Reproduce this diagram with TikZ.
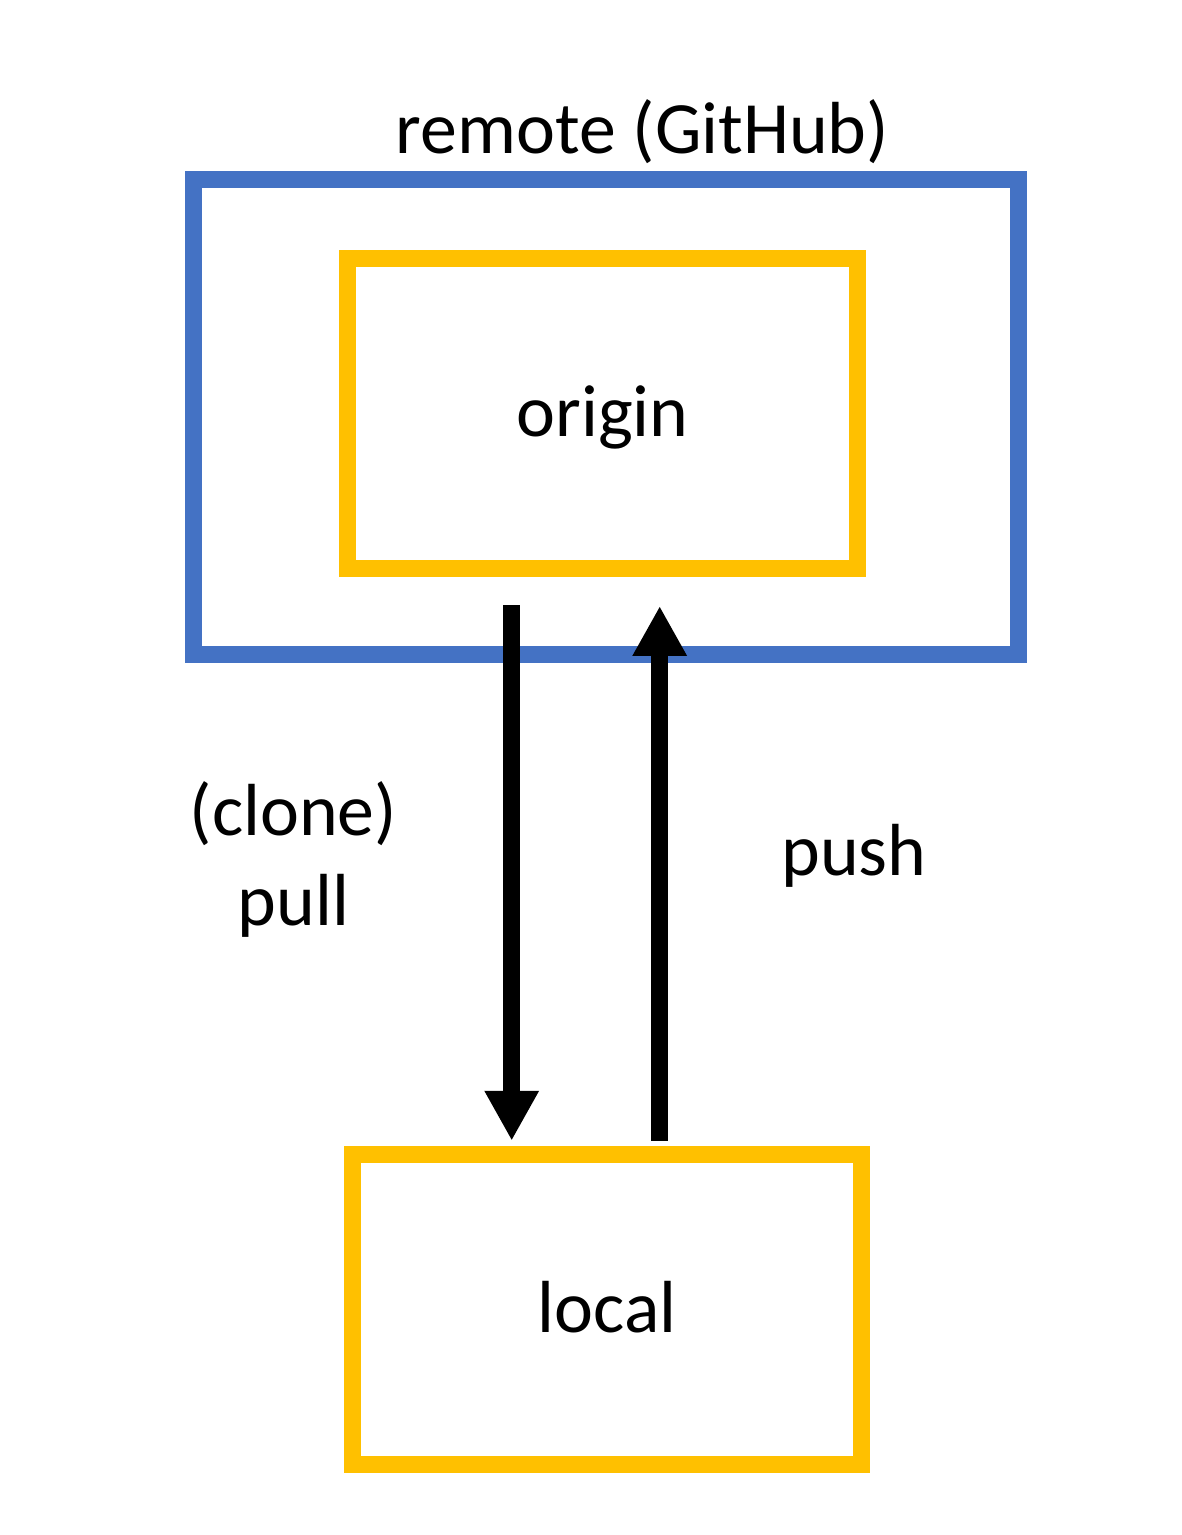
\documentclass[tikz,border=0pt]{standalone}
\usepackage{fontspec}
\setmainfont{Carlito}
\usetikzlibrary{arrows.meta}
\definecolor{repoblue}{HTML}{4472C4}
\definecolor{repogold}{HTML}{FFC000}
\begin{document}
\begin{tikzpicture}[x=0.02cm,y=-0.02cm,
    big/.style={font=\fontsize{42}{51}\selectfont},
    repobox/.style={draw=repogold,line width=0.34cm,inner sep=0pt,outer sep=0pt,
      minimum width=10.2cm,minimum height=6.22cm,big,text height=0.92cm,text depth=0pt},
    flow/.style={line width=0.34cm,-{Triangle[width=1.02cm,length=1cm]}}]
    \useasboundingbox (0,0) rectangle (1181,1535);
    % remote side
    \node[draw=repoblue,line width=0.34cm,inner sep=0pt,outer sep=0pt,
      minimum width=16.51cm,minimum height=9.51cm] (remote) at (606.25,417.25) {};
    \node[big,anchor=base] (remotelabel) at (642.5,153) {remote (GitHub)};
    \node[repobox] (origin) at (602.5,413.5) {origin};
    % local side
    \node[repobox] (local) at (607,1309.5) {local};
    % transfers
    \coordinate (pulltop) at (511.7,605);
    \coordinate (pushtop) at (659.7,606);
    \draw[flow,shorten >=0.266cm] (pulltop) -- (pulltop |- local.north);
    \draw[flow,shorten <=0.266cm] (pushtop |- local.north) -- (pushtop);
    \node[big,align=center,anchor=base] (pulllabel) at (293.5,925) {(clone)\\pull};
    \node[big,anchor=base] (pushlabel) at (854,875) {push};
\end{tikzpicture}
\end{document}
